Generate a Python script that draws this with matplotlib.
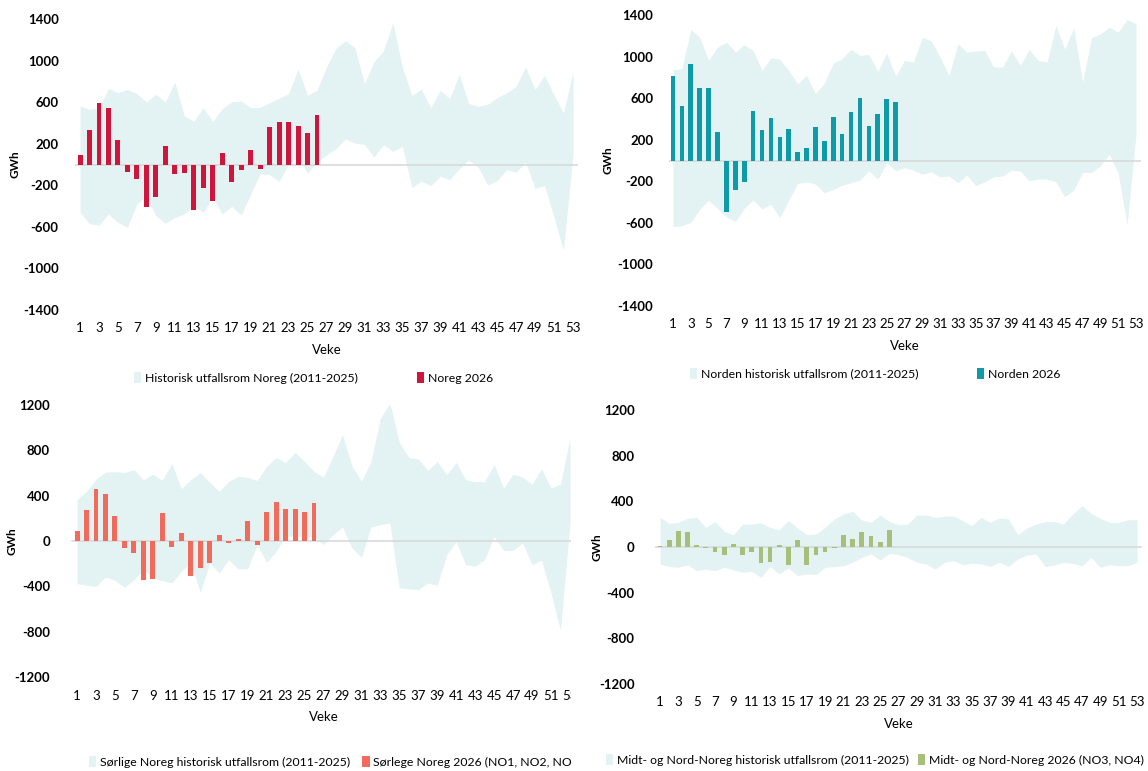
import numpy as np
import matplotlib
matplotlib.use("Agg")
import matplotlib.pyplot as plt
from matplotlib.transforms import Bbox, TransformedBbox

plt.rcParams['font.family'] = ['Lato', 'DejaVu Sans']

weeks = np.arange(1, 54)
week_labels = [str(w) for w in range(1, 54, 2)]

# Noreg
noreg_2026 = [87, 328, 595, 541, 238, -68, -142, -405, -312, 177, -87, -84, -435,
              -222, -348, 106, -171, -55, 138, -45, 357, 412, 405, 370, 302, 476]
noreg_hi = [563, 531, 547, 731, 692, 721, 682, 602, 676, 602, 792, 467, 418, 547,
            415, 537, 605, 611, 547, 550, 595, 637, 682, 917, 666, 714, 940, 1117,
            1191, 1123, 779, 988, 1091, 1365, 940, 666, 724, 547, 714, 634, 869,
            586, 560, 579, 644, 689, 753, 940, 721, 859, 666, 496, 892]
noreg_lo = [-460, -570, -583, -476, -557, -605, -380, -309, -492, -566, -509, -476,
            -396, -460, -315, -476, -402, -486, -283, -90, -97, -164, 6, 71, -84,
            23, 93, 151, 248, 206, 193, 71, 190, 126, 174, -219, -161, -203, -113,
            -145, -42, 45, -26, -196, -155, -51, -74, 23, -229, -203, -509, -824, 100]

# Norden
norden_2026 = [810, 525, 925, 694, 698, 275, -493, -288, -211, 477, 291, 410, 224,
               307, 80, 118, 326, 186, 422, 256, 467, 605, 336, 448, 589, 563]
norden_hi = [874, 883, 1258, 1187, 963, 1091, 1139, 1043, 1114, 1059, 867, 989, 973,
             867, 739, 819, 643, 746, 938, 979, 1069, 1011, 1021, 858, 1034, 810,
             963, 947, 1187, 1149, 995, 819, 1123, 1043, 1053, 1059, 899, 899, 1053,
             915, 1069, 963, 947, 1299, 1069, 1277, 755, 1181, 1219, 1283, 1235,
             1357, 1315]
norden_lo = [-637, -627, -595, -470, -381, -461, -541, -589, -461, -381, -467, -422,
             -550, -381, -221, -205, -227, -310, -278, -237, -214, -189, -99, -182,
             -22, -99, -70, -93, -131, -109, -157, -150, -214, -141, -243, -205,
             -157, -150, -93, -102, -195, -179, -179, -205, -349, -285, -115, -115,
             -51, 61, -125, -621, 259]

# Sørlige Noreg
sor_2026 = [85, 270, 461, 414, 223, -62, -103, -347, -332, 244, -50, 68, -308,
            -235, -197, 50, -18, 21, 179, -38, 253, 344, 279, 279, 259, 332]
sor_hi = [370, 438, 546, 608, 611, 605, 629, 541, 590, 535, 687, 461, 541, 605,
          517, 438, 526, 570, 561, 535, 658, 737, 693, 781, 702, 614, 564, 746,
          937, 664, 526, 702, 1084, 1216, 870, 737, 723, 623, 702, 585, 693, 541,
          523, 526, 673, 467, 590, 564, 502, 637, 467, 502, 908]
sor_lo = [-376, -391, -400, -317, -347, -408, -341, -253, -326, -350, -370, -267,
          -194, -452, -194, -282, -165, -247, -244, -32, -188, -91, 41, 47, 32, 41,
          -32, 56, 123, -62, -144, 123, 144, 159, -414, -423, -429, -370, -391,
          -120, -3, -209, -223, -165, 41, -85, -82, -18, -209, -170, -458, -787, 159]

# Midt- og Nord-Noreg
midt_2026 = [9, 64, 143, 128, 20, -12, -47, -67, 23, -67, -47, -143, -131, 15,
             -155, 64, -155, -67, -47, -9, 108, 70, 128, 93, 47, 149]
midt_hi = [260, 207, 216, 251, 260, 172, 222, 137, 105, 201, 201, 210, 172, 152,
           231, 166, 108, 114, 172, 245, 289, 312, 236, 216, 280, 222, 196, 201,
           280, 280, 260, 269, 272, 231, 187, 260, 216, 254, 245, 108, 166, 201,
           222, 222, 201, 289, 362, 295, 251, 216, 216, 239, 239]
midt_lo = [-149, -172, -178, -155, -207, -193, -207, -178, -201, -222, -213, -266,
           -169, -236, -184, -251, -236, -242, -178, -172, -164, -134, -91, -61,
           -114, -55, -67, -91, -134, -149, -193, -134, -120, -155, -143, -149,
           -169, -134, -169, -105, -70, -61, -172, -155, -134, -143, -164, -91,
           -178, -155, -164, -164, -134]

band_color = '#e3f2f3'
W, H = 1148, 771
fig = plt.figure(figsize=(W / 100, H / 100), dpi=100)


def add_panel(left, right, top, bottom, hi, lo, bars, color, lim, ticks, ypad,
              band_label, bar_label, leg_x, leg_y, colspace, ylab_x):
    ax = fig.add_axes([left / W, 1 - bottom / H, (right - left) / W, (bottom - top) / H])
    band = ax.fill_between(weeks, lo, hi, color=band_color, lw=0)
    bar = ax.bar(weeks[:len(bars)], bars, width=0.52, color=color, zorder=3)
    zline = ax.axhline(0, color='#d9d9d9', lw=1.2, zorder=2)
    ax.set_xlim(0.5, 53.5)
    ax.set_ylim(-lim, lim)
    ax.set_yticks(ticks)
    ax.set_yticklabels([str(t) for t in ticks], fontweight='bold', fontsize=9.5)
    ax.set_xticks(range(1, 54, 2))
    ax.set_xticklabels(week_labels, fontsize=9.5)
    ax.tick_params(axis='y', length=0, pad=ypad)
    ax.tick_params(axis='x', length=0, pad=9)
    for s in ax.spines.values():
        s.set_visible(False)
    ax.set_xlabel('Veke', fontsize=9.5, labelpad=7)
    fig.text(ylab_x / W, 1 - (top + bottom) / 2 / H, 'GWh', rotation=90,
             fontweight='bold', fontsize=8.5, ha='center', va='center')
    leg = fig.legend([band, bar], [band_label, bar_label],
                     loc='center left', bbox_to_anchor=(leg_x / W, 1 - leg_y / H),
                     ncol=2, frameon=False, fontsize=8.8, handlelength=0.6,
                     handleheight=0.9, handletextpad=0.3, columnspacing=colspace,
                     borderpad=0, borderaxespad=0)
    return ax, leg, zline


add_panel(75.3, 577.7, 19, 310, noreg_hi, noreg_lo, noreg_2026, '#d0153a', 1400,
          [-1400, -1000, -600, -200, 200, 600, 1000, 1400], 12,
          'Historisk utfallsrom Noreg (2011-2025)', 'Noreg 2026', 134, 378, 4.8, 15)
add_panel(668.5, 1140.5, 15, 306, norden_hi, norden_lo, norden_2026, '#0e9aa7', 1400,
          [-1400, -1000, -600, -200, 200, 600, 1000, 1400], 11,
          'Norden historisk utfallsrom (2011-2025)', 'Norden 2026', 690, 374, 4.8, 608)
ax3, leg3, zline3 = add_panel(72.3, 574.7, 405, 677, sor_hi, sor_lo, sor_2026, '#f06b5c',
                              1200, [-1200, -800, -400, 0, 400, 800, 1200], 16,
                              'Sørlige Noreg historisk utfallsrom (2011-2025)',
                              'Sørlege Noreg 2026 (NO1, NO2, NO5)', 89, 762, 1.0, 12)
add_panel(655.4, 1141.6, 410, 684, midt_hi, midt_lo, midt_2026, '#a6c07b', 1200,
          [-1200, -800, -400, 0, 400, 800, 1200], 15,
          'Midt- og Nord-Noreg historisk utfallsrom (2011-2025)',
          'Midt- og Nord-Noreg 2026 (NO3, NO4)', 606, 760, 0.75, 597)

# the bottom-left chart is cut off at its right edge in the original
clip = TransformedBbox(Bbox([[0, 0], [571 / W, 381 / H]]), fig.transFigure)
for t in list(leg3.get_texts()) + list(ax3.get_xticklabels()):
    t.set_clip_box(clip)
    t.set_clip_on(True)
zline3.set_clip_box(clip)

fig.savefig('out.png', dpi=100)
